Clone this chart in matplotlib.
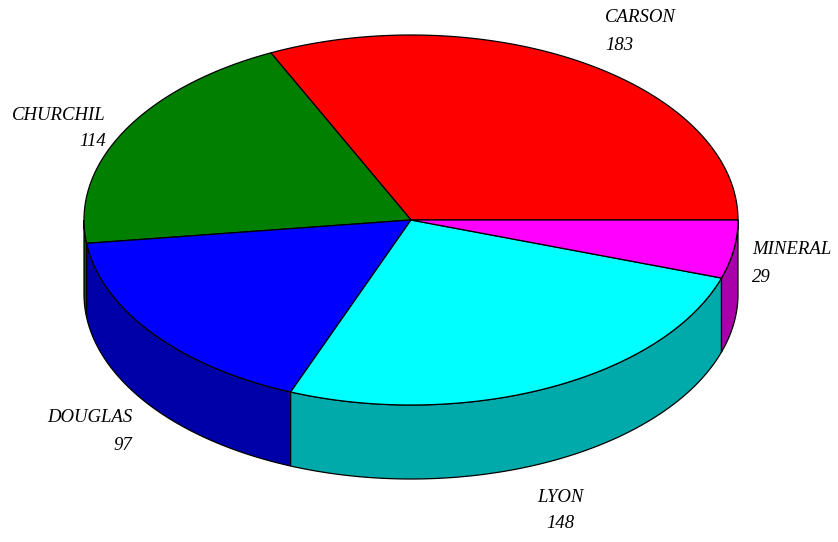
import numpy as np
import matplotlib
matplotlib.use("Agg")
import matplotlib.pyplot as plt
from matplotlib.patches import Polygon

# county counts, drawn counterclockwise from 3 o'clock
counties = ['CARSON', 'CHURCHIL', 'DOUGLAS', 'LYON', 'MINERAL']
counts = [183, 114, 97, 148, 29]
top_colors = ['#ff0000', '#007f00', '#0000ff', '#00ffff', '#ff00ff']
side_colors = ['#aa0000', '#005500', '#0000a8', '#00aaaa', '#aa00aa']

# ellipse geometry in pixels
cx, cy = 411, 220
rx, ry = 327, 185
depth = 74

# label anchor points (x, y of first line, alignment)
label_pos = [(605, 18, 'left'), (106, 115, 'right'), (132, 418, 'right'),
             (560, 497, 'center'), (752, 250, 'left')]


def arc(a0, a1, dy=0, n=120):
    t = np.radians(np.linspace(a0, a1, n))
    return np.column_stack([cx + rx * np.cos(t), cy - ry * np.sin(t) + dy])


fig = plt.figure(figsize=(8.38, 5.42), dpi=100)
ax = fig.add_axes([0, 0, 1, 1])
ax.set_xlim(0, 838)
ax.set_ylim(542, 0)
ax.axis('off')

bounds = np.concatenate([[0], np.cumsum(counts)]) / sum(counts) * 360

# side walls (only the front half is visible)
for i in range(len(counts)):
    lo = max(bounds[i], 180)
    hi = min(bounds[i + 1], 360)
    if hi <= lo:
        continue
    pts = np.vstack([arc(lo, hi), arc(hi, lo, dy=depth)])
    ax.add_patch(Polygon(pts, closed=True, facecolor=side_colors[i],
                         edgecolor='black', linewidth=0.9))

# top face
for i in range(len(counts)):
    pts = np.vstack([[cx, cy], arc(bounds[i], bounds[i + 1])])
    ax.add_patch(Polygon(pts, closed=True, facecolor=top_colors[i],
                         edgecolor='black', linewidth=0.9))

for name, val, (x, y, ha) in zip(counties, counts, label_pos):
    ax.text(x, y, name, ha=ha, va='center', fontsize=13.5,
            family='Liberation Serif', style='italic')
    ax.text(x, y + 27, str(val), ha=ha, va='center', fontsize=13.5,
            family='Liberation Serif', style='italic')

fig.savefig('out.png', dpi=100)
